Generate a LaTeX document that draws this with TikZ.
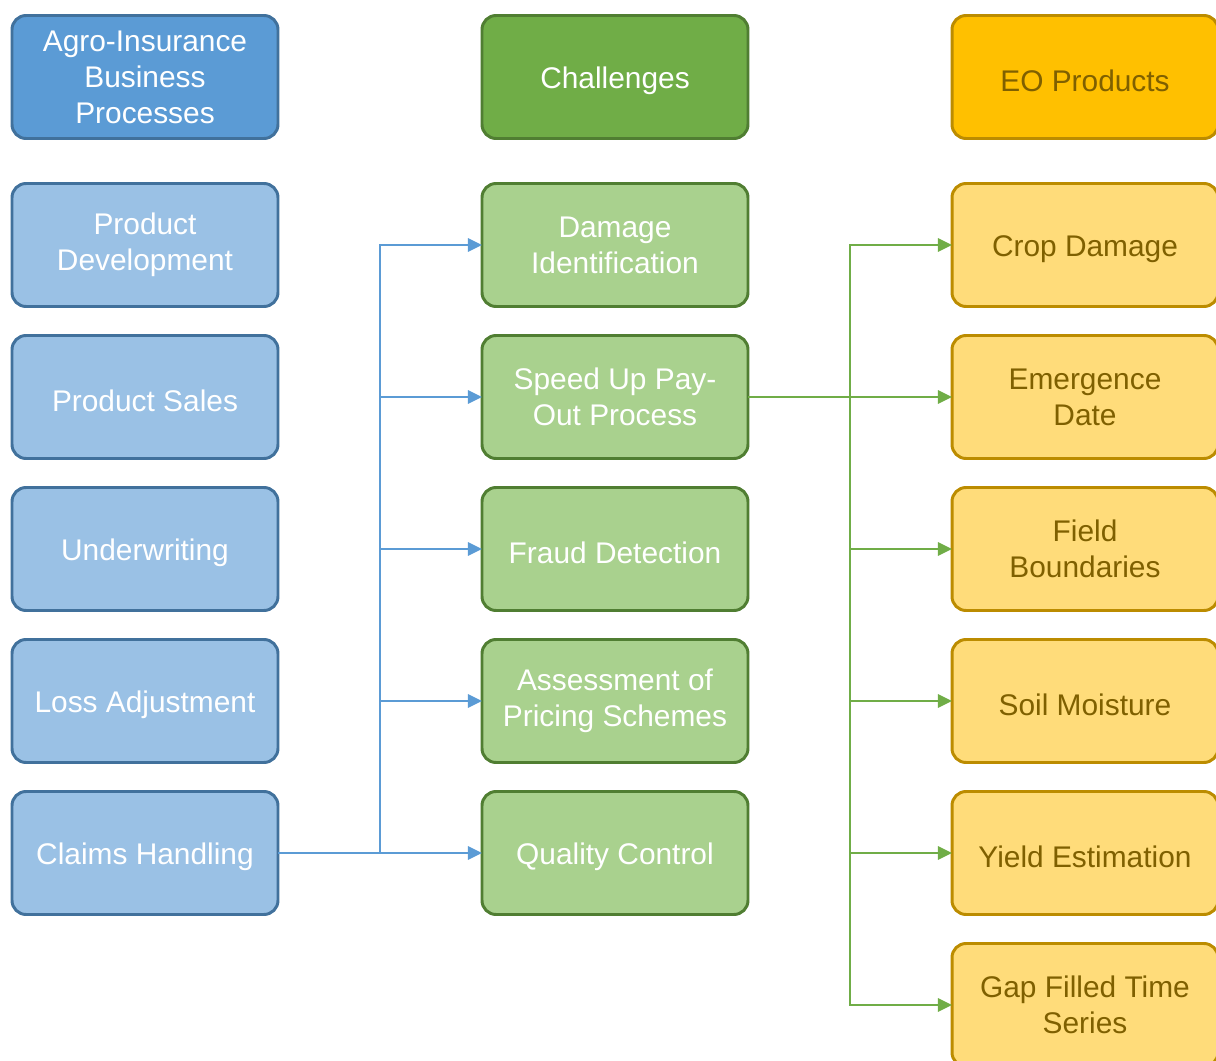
\documentclass[tikz,border=0pt]{standalone}
\usepackage{fontspec}
\setmainfont{Liberation Sans}
\usetikzlibrary{positioning,arrows.meta}

\definecolor{bizdark}{HTML}{5B9BD5}
\definecolor{bizlight}{HTML}{9AC1E5}
\definecolor{bizline}{HTML}{41719C}
\definecolor{chgdark}{HTML}{70AD47}
\definecolor{chglight}{HTML}{A9D18E}
\definecolor{chgline}{HTML}{507E32}
\definecolor{eodark}{HTML}{FFC000}
\definecolor{eolight}{HTML}{FFDC7A}
\definecolor{eoline}{HTML}{BC8C00}
\definecolor{eotext}{HTML}{7F6000}

\begin{document}
\begin{tikzpicture}[auto, node distance=0.58cm and 4.08cm, >={Triangle[length=8pt,width=7.5pt]}]
    % Define block styles
    \tikzstyle{bizbox} = [draw, rectangle, rounded corners=8pt, line width=1.7pt, minimum width=5.32cm, minimum height=2.46cm, inner sep=0pt, outer sep=0pt, align=center, font=\fontsize{17}{20.5}\selectfont, execute at begin node={\rule{0pt}{16.8pt}}]
    \tikzstyle{bizhead} = [bizbox, fill=bizdark, draw=bizline, text=white]
    \tikzstyle{biz} = [bizbox, fill=bizlight, draw=bizline, text=white]
    \tikzstyle{chghead} = [bizbox, fill=chgdark, draw=chgline, text=white]
    \tikzstyle{chg} = [bizbox, fill=chglight, draw=chgline, text=white]
    \tikzstyle{eohead} = [bizbox, fill=eodark, draw=eoline, text=eotext]
    \tikzstyle{eo} = [bizbox, fill=eolight, draw=eoline, text=eotext]
    \tikzstyle{bline} = [draw=bizdark, line width=1.4pt]
    \tikzstyle{gline} = [draw=chgdark, line width=1.4pt]

    \useasboundingbox (0,0) rectangle (24.32,-21.22);

    % Headers
    \node [bizhead] (ins) at (2.9,-1.54) {Agro-Insurance\\Business\\Processes};
    \node [chghead, right=of ins] (chg) {Challenges};
    \node [eohead, right=of chg] (eo) {EO Products};

    % Business processes
    \node [biz, below=0.9cm of ins] (pd) {Product\\Development};
    \node [biz, below=of pd] (ps) {Product Sales};
    \node [biz, below=of ps] (uw) {Underwriting};
    \node [biz, below=of uw] (la) {Loss Adjustment};
    \node [biz, below=of la] (ch) {Claims Handling};

    % Challenges
    \node [chg, below=0.9cm of chg] (di) {Damage\\Identification};
    \node [chg, below=of di] (sp) {Speed Up Pay-\\Out Process};
    \node [chg, below=of sp] (fd) {Fraud Detection};
    \node [chg, below=of fd] (ap) {Assessment of\\Pricing Schemes};
    \node [chg, below=of ap] (qc) {Quality Control};

    % EO products
    \node [eo, below=0.9cm of eo] (cd) {Crop Damage};
    \node [eo, below=of cd] (ed) {Emergence\\Date};
    \node [eo, below=of ed] (fb) {Field\\Boundaries};
    \node [eo, below=of fb] (sm) {Soil Moisture};
    \node [eo, below=of sm] (ye) {Yield Estimation};
    \node [eo, below=of ye] (gf) {Gap Filled Time\\Series};

    % Connections
    \draw [bline] (ch.east) -- ++(2.04,0) coordinate (chbus);
    \draw [bline,->] (chbus) |- (di.west);
    \draw [bline,->] (chbus) |- (sp.west);
    \draw [bline,->] (chbus) |- (fd.west);
    \draw [bline,->] (chbus) |- (ap.west);
    \draw [bline,->] (chbus) |- (qc.west);

    \draw [gline] (sp.east) -- ++(2.04,0) coordinate (spbus);
    \draw [gline,->] (spbus) |- (cd.west);
    \draw [gline,->] (spbus) |- (ed.west);
    \draw [gline,->] (spbus) |- (fb.west);
    \draw [gline,->] (spbus) |- (sm.west);
    \draw [gline,->] (spbus) |- (ye.west);
    \draw [gline,->] (spbus) |- (gf.west);
\end{tikzpicture}
\end{document}
